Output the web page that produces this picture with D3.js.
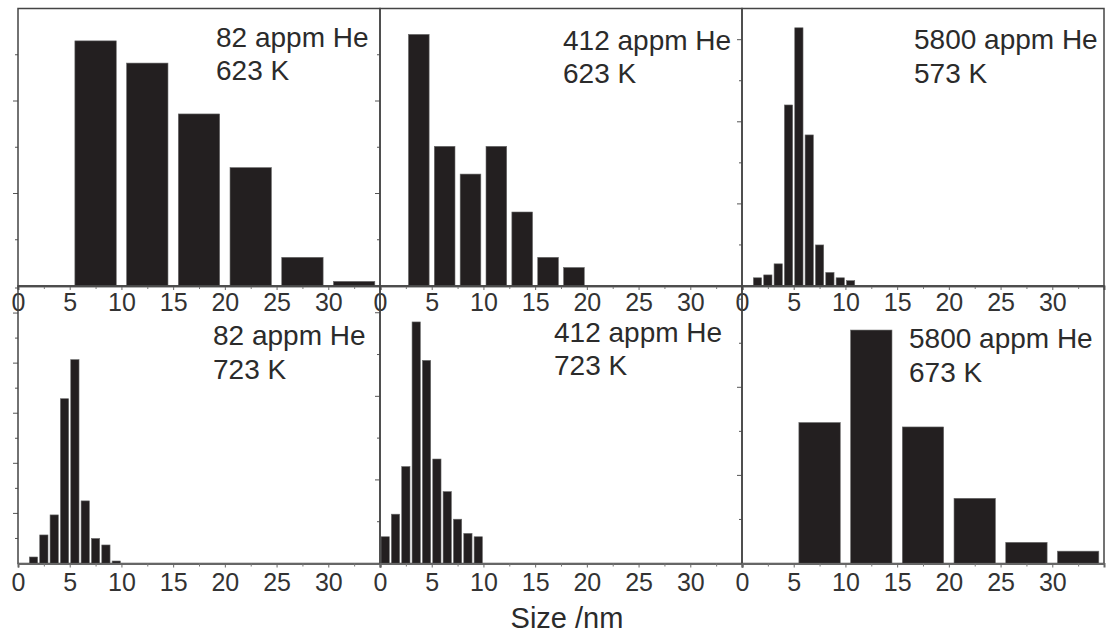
<!DOCTYPE html>
<html>
<head>
<meta charset="utf-8">
<script src="https://cdn.jsdelivr.net/npm/d3@7"></script>
<style>
    body { margin: 0; background: #fff; }
    svg { display: block; font-family: "Liberation Sans", Arial, Helvetica, sans-serif; }
</style>
</head>
<body>
<div id="chart"></div>
<script>
// panel order: top row left->right, then bottom row left->right
const heLabels = ["82 appm He", "412 appm He", "5800 appm He", "82 appm He", "412 appm He", "5800 appm He"];
const tempLabels = ["623 K", "623 K", "573 K", "723 K", "723 K", "673 K"];

// histogram bins (nm): first bin start and bin width
const binFirst = [5, 2.5, 1, 1, 0, 5];
const binWidth = [5, 2.5, 1, 1, 1, 5];

// bar heights, frequency (arbitrary units)
const freq82at623 = [26.5, 24.1, 18.6, 12.8, 3.1, 0.5];
const freq412at623 = [27.2, 15.1, 12.1, 15.1, 8.0, 3.1, 2.0];
const freq5800at573 = [2.0, 2.7, 5.4, 44.1, 62.9, 36.8, 10.0, 3.3, 2.0, 1.3];
const freq82at723 = [1.3, 5.7, 9.7, 32.9, 40.7, 12.5, 5.0, 3.7, 0.5];
const freq412at723 = [3.2, 5.9, 11.6, 28.9, 24.3, 12.5, 8.6, 5.3, 3.6, 3.2];
const freq5800at673 = [16.0, 26.5, 15.5, 7.4, 2.4, 1.4];

const xTicks = [0, 5, 10, 15, 20, 25, 30];
const xMinorTicks = [2.5, 7.5, 12.5, 17.5, 22.5, 27.5, 32.5];
const yMax = [30, 30, 67.6, 55.4, 33.2, 31.5];
const yStep = [5, 5, 10, 5, 5, 5];

document.addEventListener("DOMContentLoaded", function () {

    const allFreq = [freq82at623, freq412at623, freq5800at573, freq82at723, freq412at723, freq5800at673];

    const width = 1110, height = 635;
    const left = 18, top = 8.5,
        panelW = 362, panelH = 277.5;

    // label offsets from panel's top-left corner
    const labelDx = [198, 183, 172, 195, 174, 167];
    const labelDy = [38, 41, 40.5, 59, 55.5, 62];

    const svg = d3.select("#chart")
        .append("svg")
        .attr("width", width)
        .attr("height", height);

    allFreq.forEach((freq, i) => {
        const col = i % 3, row = Math.floor(i / 3);
        const x0 = left + col * panelW, y0 = top + row * panelH;

        const g = svg.append("g")
            .attr("transform", `translate(${x0},${y0})`);

        const x = d3.scaleLinear()
            .domain([0, 35])
            .range([0, panelW]);

        const y = d3.scaleLinear()
            .domain([0, yMax[i]])
            .range([panelH, 0]);

        const bins = freq.map((v, k) => ({
            start: binFirst[i] + k * binWidth[i],
            end: binFirst[i] + (k + 1) * binWidth[i],
            value: v
        }));

        const pad = binWidth[i] * 0.1;

        g.selectAll(".bar")
            .data(bins)
            .enter()
            .append("rect")
            .attr("class", "bar")
            .attr("x", d => x(d.start + pad))
            .attr("y", d => y(d.value))
            .attr("width", d => x(d.end - pad) - x(d.start + pad))
            .attr("height", d => y(0) - y(d.value))
            .attr("fill", "#231f20")
            .attr("stroke", "#6a6a6a")
            .attr("stroke-width", 0.6);

        // y ticks (no labels), every other one longer
        const yt = d3.range(yStep[i], yMax[i], yStep[i]);
        g.selectAll(".ytick")
            .data(yt)
            .enter()
            .append("line")
            .attr("class", "ytick")
            .attr("x1", (d, k) => k % 2 === 1 ? -5 : -3)
            .attr("x2", 0)
            .attr("y1", d => y(d))
            .attr("y2", d => y(d))
            .attr("stroke", "#555")
            .attr("stroke-width", 1);

        // frame
        g.append("rect")
            .attr("x", 0)
            .attr("y", 0)
            .attr("width", panelW)
            .attr("height", panelH)
            .attr("fill", "none")
            .attr("stroke", "#444")
            .attr("stroke-width", 1.5);

        // x axis
        const xAxis = g.append("g")
            .attr("transform", `translate(0,${panelH})`)
            .call(d3.axisBottom(x)
                .tickValues(xTicks)
                .tickSize(4)
                .tickPadding(row === 0 ? 3.5 : 6)
            );
        xAxis.select(".domain")
            .attr("stroke", "#666")
            .attr("stroke-width", 2);
        xAxis.selectAll(".tick line").attr("stroke", "#666");
        xAxis.selectAll("text")
            .style("font-size", "25px")
            .attr("fill", "#333");

        g.append("g")
            .attr("transform", `translate(0,${panelH})`)
            .call(d3.axisBottom(x).tickValues(xMinorTicks).tickSize(3).tickFormat(""))
            .call(a => a.select(".domain").remove())
            .selectAll("line").attr("stroke", "#777");

        const label = g.append("text")
            .attr("x", labelDx[i])
            .attr("y", labelDy[i])
            .attr("fill", "#2b2b2b")
            .style("font-size", "28px");
        label.append("tspan").attr("x", labelDx[i]).text(heLabels[i]);
        label.append("tspan").attr("x", labelDx[i]).attr("dy", 33.5).text(tempLabels[i]);
    });

    svg.append("text")
        .attr("x", 567)
        .attr("y", 628)
        .attr("text-anchor", "middle")
        .attr("fill", "#2b2b2b")
        .style("font-size", "29px")
        .text("Size /nm");
});
</script>
</body>
</html>
